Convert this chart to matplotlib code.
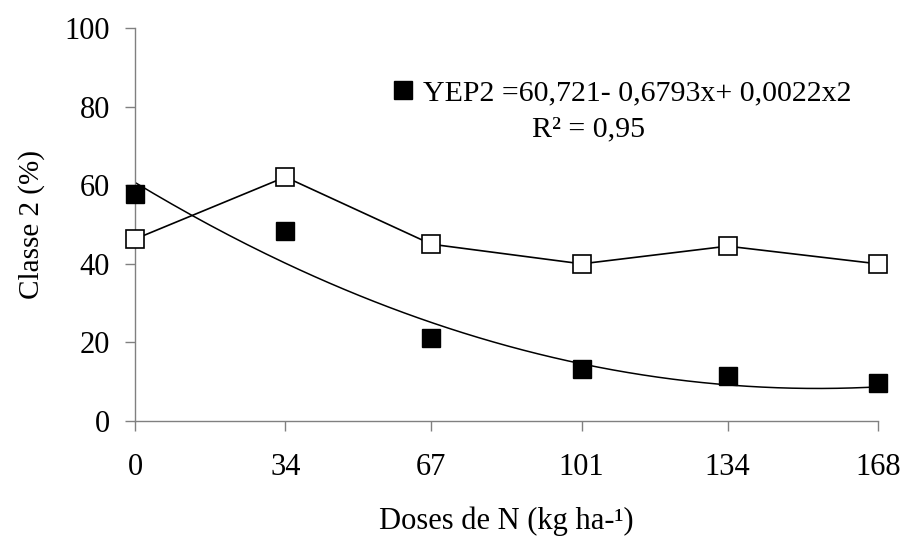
import numpy as np
import matplotlib as mpl
mpl.use('Agg')
import matplotlib.pyplot as plt

# Doses de N (kg/ha) and percentage of class 2
doses = [0, 34, 67, 101, 134, 168]
classe2_aberto = [46.3, 62.1, 45.0, 40.0, 44.5, 40.0]
classe2_cheio = [57.8, 48.3, 21.1, 13.2, 11.5, 9.7]

# quadratic fit for the filled series: y = a + b*x + c*x^2
a, b, c = 60.721, -0.6793, 0.0022
eq_label = 'YEP2 =60,721- 0,6793x+ 0,0022x2'
r2_label = 'R² = 0,95'

plt.rcParams['font.family'] = ['Liberation Serif', 'DejaVu Serif']

fig = plt.figure(figsize=(9.04, 5.39), dpi=100)
ax = fig.add_axes([0.1493, 0.2189, 0.8219, 0.729])

xs = np.linspace(doses[0], doses[-1], 200)
ax.plot(xs, a + b * xs + c * xs ** 2, color='black', lw=1.1, zorder=2)

ax.plot(doses, classe2_aberto, color='black', lw=1.2, marker='s', ms=13,
        mfc='white', mec='black', mew=1.2, zorder=3, clip_on=False)
ax.plot(doses, classe2_cheio, ls='none', marker='s', ms=13,
        mfc='black', mec='black', label=eq_label, zorder=3, clip_on=False)

leg = ax.legend(loc='upper left', bbox_to_anchor=(0.347, 0.868), frameon=False,
                fontsize=21.5, handlelength=0.7, handletextpad=0.3,
                borderaxespad=0, borderpad=0)
ax.text(0.61, 0.743, r2_label, transform=ax.transAxes, ha='center', va='center',
        fontsize=21.5)

ax.set_xlim(0, 168)
ax.set_ylim(0, 100)
ax.set_xticks(doses)
ax.set_yticks(range(0, 101, 20))
ax.tick_params(labelsize=22, length=7, width=1, color='#808080', pad=11)
ax.tick_params(axis='x', pad=16)

for side in ['top', 'right']:
    ax.spines[side].set_visible(False)
for side in ['left', 'bottom']:
    ax.spines[side].set_color('#808080')
    ax.spines[side].set_linewidth(1)

ax.set_xlabel('Doses de N (kg ha-¹)', fontsize=22, labelpad=18)
ax.set_ylabel('Classe 2 (%)', fontsize=21, labelpad=14)

fig.savefig('out.png', dpi=100)
